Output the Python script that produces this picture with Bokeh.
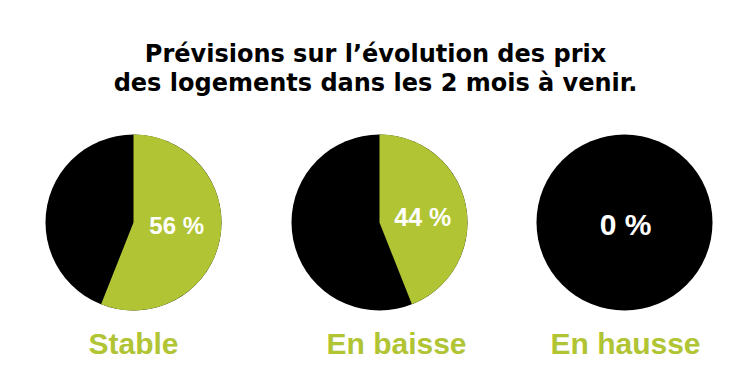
import math
from bokeh.plotting import figure
from bokeh.models import ColumnDataSource, Range1d
from bokeh.core.properties import value
from bokeh.embed import file_html
from bokeh.resources import INLINE

# ---- data ----
categories = ["Stable", "En baisse", "En hausse"]
pct_values = [56, 44, 0]
pct_labels = ["56 %", "44 %", "0 %"]
title_lines = ["Prévisions sur l\u2019évolution des prix",
               "des logements dans les 2 mois à venir."]

# ---- layout / style ----
W, H = 734, 359
GREEN = "#b0c434"
BLACK = "#000000"
centers_x = [133, 379, 624]
center_y = 137
radius = 88
cat_dx = [0, 17, 1]
pct_font_sizes = ["24px", "25px", "30px"]

p = figure(width=W, height=H, output_backend="svg", toolbar_location=None,
           x_range=Range1d(0, W), y_range=Range1d(0, H), min_border=0,
           background_fill_color="white", border_fill_color="white")
p.axis.visible = False
p.grid.visible = False
p.outline_line_color = None

# black base discs
base = ColumnDataSource(dict(x=centers_x, y=[center_y] * 3))
p.circle(x="x", y="y", radius=radius, source=base, fill_color=BLACK, line_color=None)

# green wedges (clockwise from 12 o'clock)
wx, wy, ws, we = [], [], [], []
for cx, v in zip(centers_x, pct_values):
    if v > 0:
        wx.append(cx)
        wy.append(center_y)
        ws.append(math.pi / 2)
        we.append(math.pi / 2 - 2 * math.pi * v / 100)
wsrc = ColumnDataSource(dict(x=wx, y=wy, s=ws, e=we))
p.wedge(x="x", y="y", radius=radius, start_angle="s", end_angle="e",
        direction="clock", source=wsrc, fill_color=GREEN, line_color=None)

# percent labels
lx, ly = [], []
for cx, v in zip(centers_x, pct_values):
    if v > 0:
        mid = math.pi / 2 - math.pi * v / 100
        lx.append(cx + 0.5 * radius * math.cos(mid))
        ly.append(center_y + 0.25 * radius * math.sin(mid) + 1)
    else:
        lx.append(cx + 1)
        ly.append(center_y - 2)
lsrc = ColumnDataSource(dict(x=lx, y=ly, t=pct_labels, fs=pct_font_sizes))
p.text(x="x", y="y", text="t", text_font_size="fs", source=lsrc, text_color="white",
       text_font=value("Liberation Sans"), text_font_style="bold",
       text_align="center", text_baseline="middle")

# category labels
p.text(x=[c + d for c, d in zip(centers_x, cat_dx)], y=[16] * 3, text=categories,
       text_color=GREEN, text_font=value("Liberation Sans"), text_font_style="bold",
       text_font_size="30px", text_align="center", text_baseline="alphabetic")

# title
p.text(x=[375, 375], y=[306, 277], text=title_lines, text_color="black",
       text_font=value("DejaVu Sans"), text_font_style="bold",
       text_font_size="24px", text_align="center", text_baseline="alphabetic")

open("out.html", "w").write(file_html(p, INLINE))
